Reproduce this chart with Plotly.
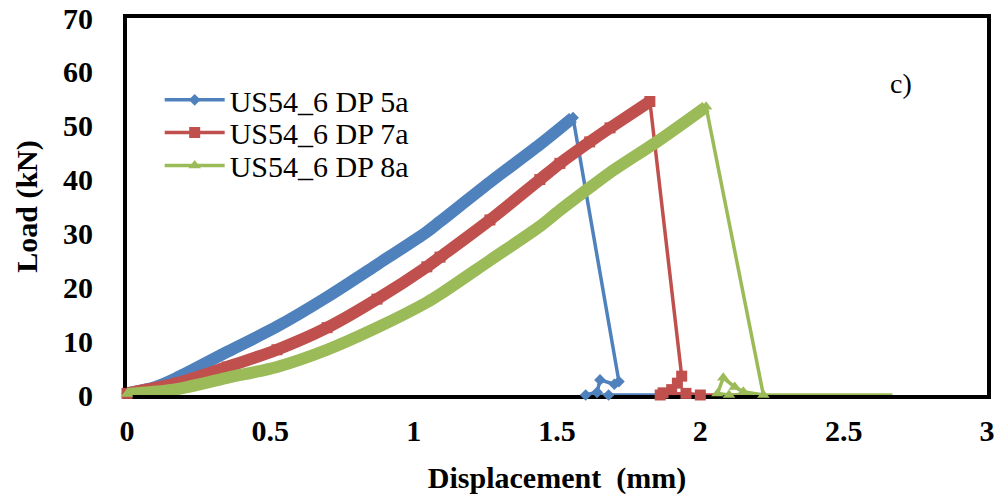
import plotly.graph_objects as go

# ---- data ----
names = ["US54_6 DP 5a", "US54_6 DP 7a", "US54_6 DP 8a"]

blue_x = [0, 0.10, 0.174, 0.349, 0.523, 0.698, 0.872, 1.046, 1.092, 1.266, 1.44, 1.556,
          1.716, 1.70, 1.65, 1.64, 1.60, 1.68, 1.90]
blue_y = [0.3, 1.5, 3.2, 8.0, 12.7, 18.2, 24.2, 30.3, 32.2, 39.5, 46.5, 51.5,
          2.5, 2.0, 2.8, 0.5, 0, 0, 0]

red_x = [0, 0.174, 0.349, 0.523, 0.698, 0.872, 1.046, 1.092, 1.266, 1.44, 1.51, 1.614, 1.685, 1.824,
         1.935, 1.92, 1.90, 1.87, 1.86, 1.95, 2.00, 2.20]
red_y = [0.3, 2.2, 5.2, 8.4, 12.5, 17.8, 23.8, 25.6, 32.5, 40.0, 43.0, 47.0, 49.6, 54.5,
         3.5, 2.2, 1.0, 0.4, 0, 0.3, 0, 0]

green_x = [0, 0.174, 0.349, 0.523, 0.698, 0.872, 1.046, 1.092, 1.266, 1.44, 1.51, 1.614, 1.685, 1.859, 2.02,
           2.22, 2.15, 2.12, 2.08, 2.06, 2.10, 2.67]
green_y = [0.2, 1.1, 3.2, 5.2, 8.4, 12.5, 17.2, 18.7, 25.0, 31.3, 34.3, 38.5, 41.3, 47.4, 53.5,
           0, 0.6, 1.5, 3.2, 0.3, 0, 0]

colors = ["#4F81BD", "#C0504D", "#9BBB59"]
symbols = ["diamond", "square", "triangle-up"]
legend_marker_sizes = [9, 11, 11]

x_tickvals = [0, 0.5, 1, 1.5, 2, 2.5, 3]
x_ticktext = ["0", "0.5", "1", "1.5", "2", "2.5", "3"]
y_tickvals = [0, 10, 20, 30, 40, 50, 60, 70]

series = [(blue_x, blue_y), (red_x, red_y), (green_x, green_y)]
legend_ids = ["legend", "legend2", "legend3"]
legend_y = [0.783, 0.696, 0.609]

FONT = "Liberation Serif"
fig = go.Figure()

for (xs, ys), name, col, sym, ms, lid in zip(series, names, colors, symbols,
                                             legend_marker_sizes, legend_ids):
    peak = ys.index(max(ys))
    # full curve (without last zero-extension point) with markers
    fig.add_trace(go.Scatter(
        x=xs[:-1], y=ys[:-1], mode="lines+markers", name=name,
        line=dict(color=col, width=3.5),
        marker=dict(symbol=sym, size=ms, color=col),
        cliponaxis=False, legend=lid))
    # dense loading band
    fig.add_trace(go.Scatter(
        x=xs[:peak + 1], y=ys[:peak + 1], mode="lines",
        line=dict(color=col, width=12, shape="spline", smoothing=0.8),
        showlegend=False, cliponaxis=False, hoverinfo="skip"))
    # tail along zero
    fig.add_trace(go.Scatter(
        x=xs[-2:], y=ys[-2:], mode="lines",
        line=dict(color=col, width=3.5), showlegend=False,
        cliponaxis=False, hoverinfo="skip"))

axis_common = dict(showline=True, linecolor="black", linewidth=4, mirror=True,
                   showgrid=False, zeroline=False, ticks="", layer="below traces",
                   ticklabeloverflow="allow",
                   tickfont=dict(family=FONT, size=30, color="black", weight="bold"))

fig.update_xaxes(range=[0, 3], tickvals=x_tickvals, ticktext=x_ticktext,
                 ticklabelstandoff=6,
                 title=dict(text="Displacement  (mm)", standoff=22,
                            font=dict(family=FONT, size=30, color="black", weight="bold")),
                 **axis_common)
fig.update_yaxes(range=[0, 70], tickvals=y_tickvals,
                 ticklabelstandoff=24,
                 title=dict(text="Load (kN)", standoff=18,
                            font=dict(family=FONT, size=30, color="black", weight="bold")),
                 **axis_common)

fig.add_annotation(text="c)", x=0.9, y=0.825, xref="paper", yref="paper",
                   xanchor="center", yanchor="middle",
                   showarrow=False, font=dict(family=FONT, size=28, color="black"))

legend_common = dict(x=0.038, xanchor="left", yanchor="middle",
                     bgcolor="rgba(0,0,0,0)", itemwidth=60,
                     font=dict(family=FONT, size=30, color="black"))

fig.update_layout(
    width=1002, height=501,
    margin=dict(l=127, r=15, t=18, b=106, autoexpand=False),
    paper_bgcolor="white", plot_bgcolor="white",
    showlegend=True,
    legend=dict(y=legend_y[0], **legend_common),
    legend2=dict(y=legend_y[1], **legend_common),
    legend3=dict(y=legend_y[2], **legend_common),
)

fig.write_html("out.html", config={"displayModeBar": False},
               post_script="document.body.style.margin='0px';")
